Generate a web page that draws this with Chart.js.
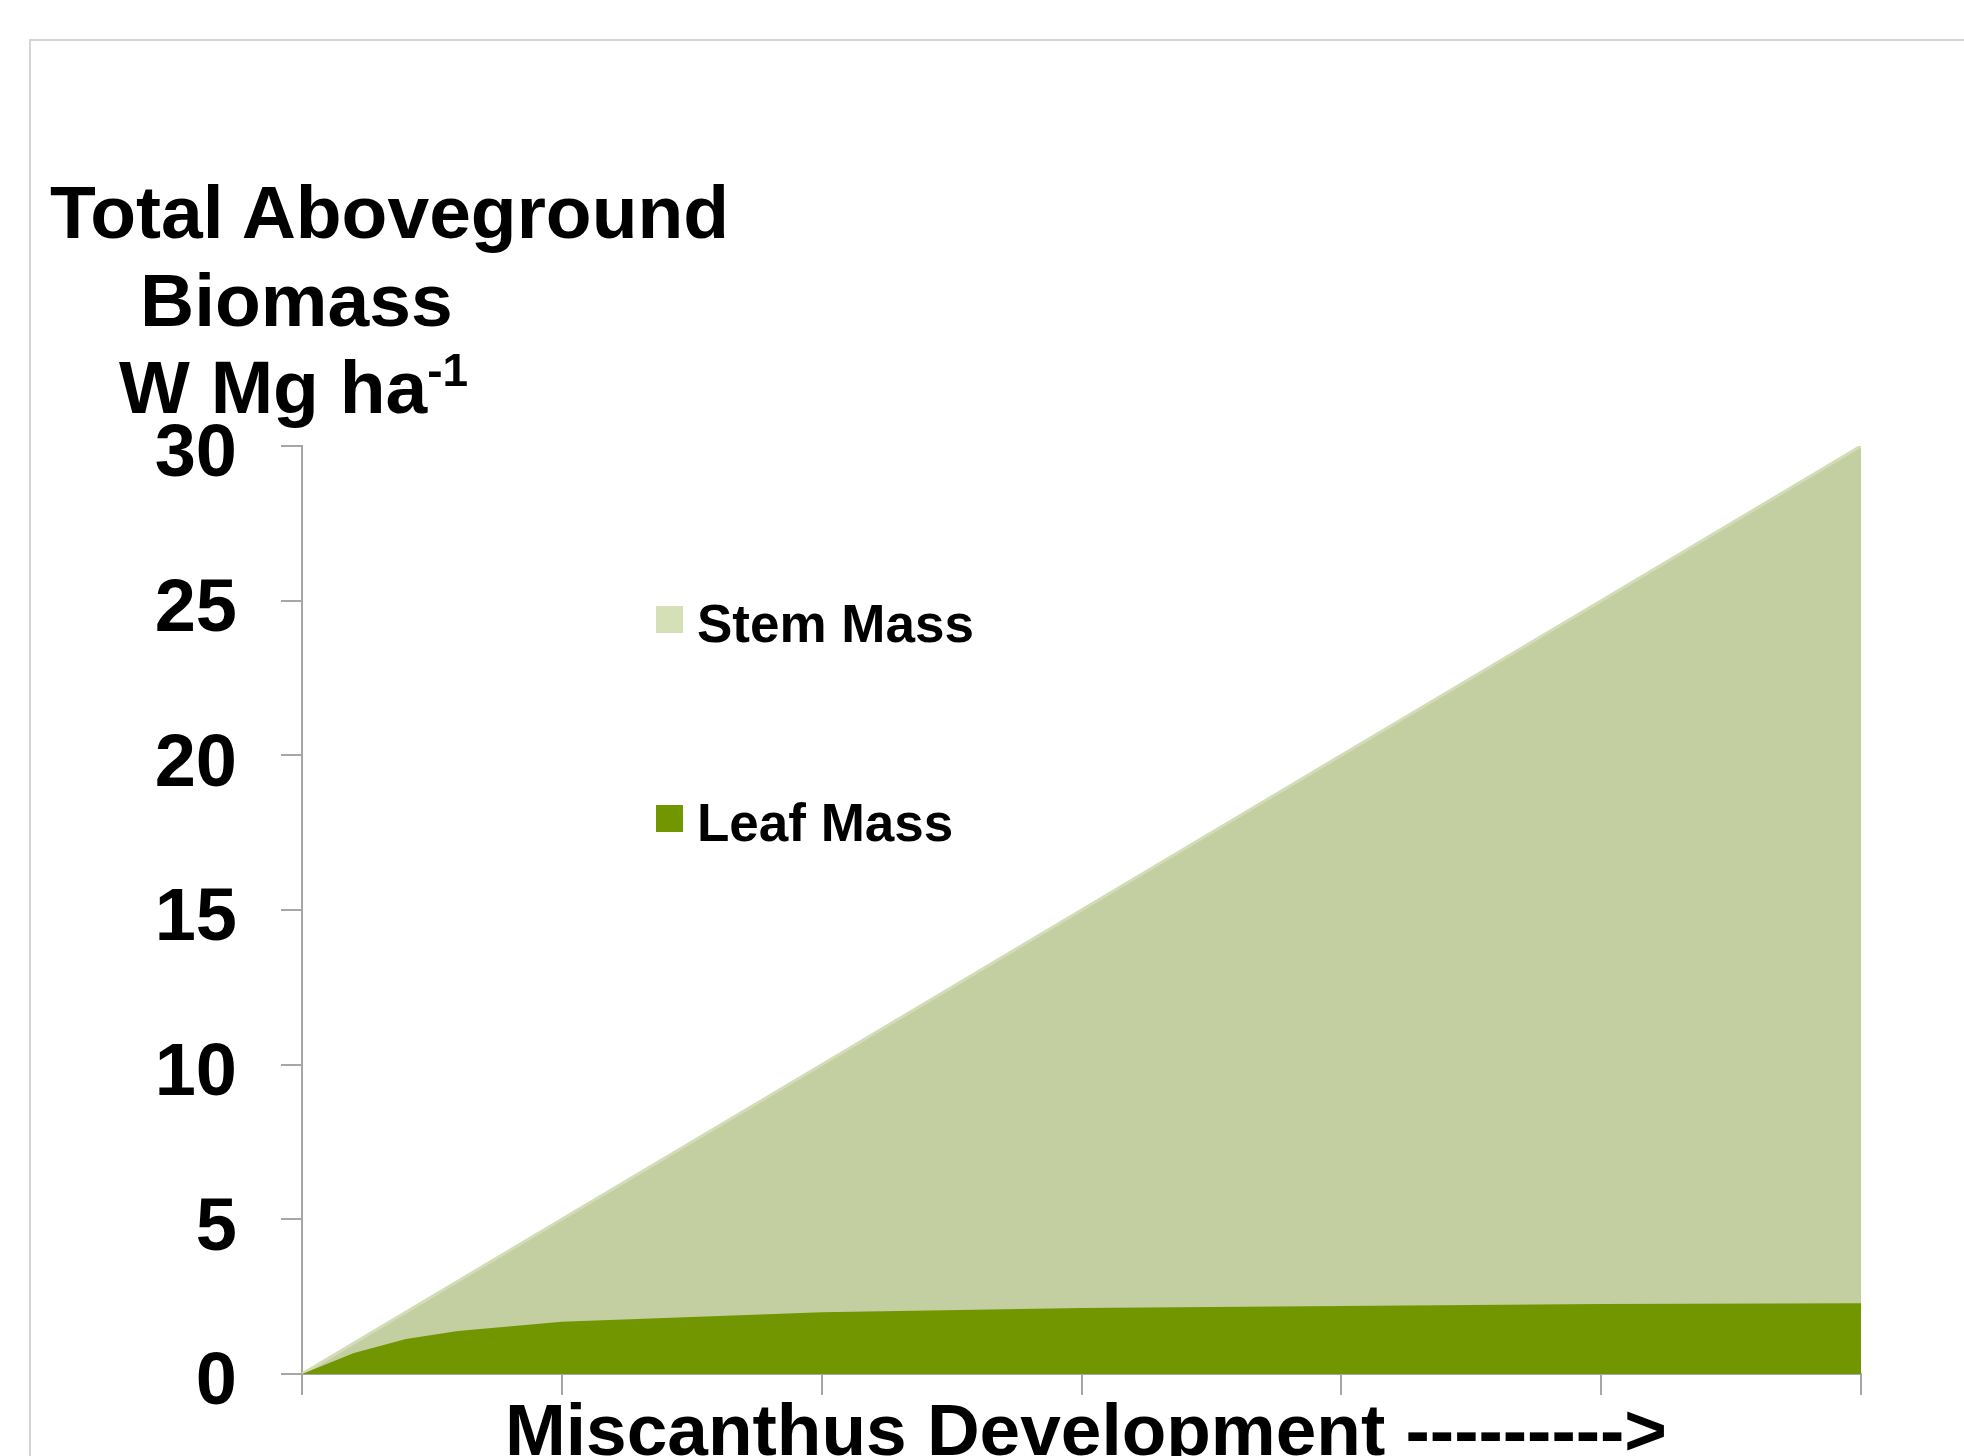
<!DOCTYPE html>
<html>
<head>
<meta charset="utf-8">
<script src="https://cdn.jsdelivr.net/npm/chart.js@4/dist/chart.umd.min.js"></script>
<style>
html, body { margin: 0; padding: 0; background: #fff; overflow: hidden; }
#wrap { position: relative; width: 1964px; height: 1456px; overflow: hidden; }
#frame { position: absolute; left: 29px; top: 39px; right: -5px; bottom: -5px; border-top: 2px solid #d4d4d4; border-left: 2px solid #d4d4d4; }
#chart { position: absolute; left: 0; top: 0; }
.t { position: absolute; font-family: "Liberation Sans", Arial, sans-serif; font-weight: bold; color: #000; white-space: nowrap; line-height: 1; }
.ytitle { font-size: 75px; }
.sup { font-size: 46px; position: relative; top: -27px; line-height: 0; }
</style>
</head>
<body>
<div id="wrap">
  <div id="frame"></div>
  <canvas id="chart" width="1964" height="1456"></canvas>
  <div class="t ytitle" style="left:50px; top:175px;">Total Aboveground</div>
  <div class="t ytitle" style="left:140px; top:263px;">Biomass</div>
  <div class="t ytitle" style="left:119px; top:350px;">W Mg ha<span class="sup">-1</span></div>
  <div class="t" style="font-size:73px; left:1086px; top:1393px; transform:translateX(-50%);">Miscanthus Development ---------&gt;</div>
</div>
<script>
// stages along the x axis (no labels shown in the original)
const stemX = [0, 1, 2, 3, 4, 5, 6];
// top of the stem band = total aboveground biomass
const stemTop = [0, 5, 10, 15, 20, 25, 30];
const leafX = [0, 0.2, 0.4, 0.6, 1, 2, 3, 4, 5, 6];
const leafMass = [0, 0.68, 1.13, 1.39, 1.69, 2.0, 2.13, 2.2, 2.26, 2.29];
const yMin = 0, yMax = 30, yStep = 5;
const xMin = 0, xMax = 6;

const toPoints = (xs, ys) => xs.map((x, i) => ({ x: x, y: ys[i] }));

// legend drawn inside the plot, like the original
const inlineLegend = {
    id: 'inlineLegend',
    afterDraw(chart, args, opts) {
        const ctx = chart.ctx;
        ctx.save();
        ctx.font = 'bold 53px "Liberation Sans", Arial, sans-serif';
        ctx.textBaseline = 'alphabetic';
        ctx.textAlign = 'left';
        chart.data.datasets.forEach((ds, i) => {
            const y = opts.top + i * opts.gap;
            ctx.fillStyle = ds.legendColor;
            ctx.fillRect(opts.left, y, opts.box, opts.box);
            ctx.fillStyle = '#000';
            ctx.fillText(ds.label, opts.left + opts.box + opts.textGap, y + opts.baseline);
        });
        ctx.restore();
    }
};

const axisGray = '#a6a6a6';

new Chart(document.getElementById('chart').getContext('2d'), {
    type: 'line',
    data: {
        datasets: [
            {
                label: 'Stem Mass',
                data: toPoints(stemX, stemTop),
                backgroundColor: '#c3cea1',
                borderColor: '#d3dcb6',
                borderWidth: 3,
                legendColor: '#d6e0b6',
                fill: 'origin',
                pointRadius: 0,
                tension: 0,
                order: 1
            },
            {
                label: 'Leaf Mass',
                data: toPoints(leafX, leafMass),
                backgroundColor: '#729600',
                borderWidth: 0,
                legendColor: '#729600',
                fill: 'origin',
                pointRadius: 0,
                tension: 0,
                order: 0
            }
        ]
    },
    plugins: [inlineLegend],
    options: {
        responsive: false,
        animation: false,
        devicePixelRatio: 1,
        layout: { padding: { top: 446, right: 103, left: 0, bottom: 0 } },
        plugins: {
            legend: { display: false },
            tooltip: { enabled: false },
            inlineLegend: { left: 656, top: 606, gap: 199, box: 27, textGap: 14, baseline: 36 }
        },
        scales: {
            x: {
                type: 'linear',
                min: xMin, max: xMax,
                ticks: { stepSize: 1, callback: () => '', font: { size: 10 } },
                grid: { drawOnChartArea: false, drawTicks: true, tickLength: 21, color: axisGray, lineWidth: 2 },
                border: { display: true, color: axisGray, width: 2 },
                afterFit: (scale) => { scale.height = 82; scale.paddingLeft = 0; scale.paddingRight = 0; }
            },
            y: {
                min: yMin, max: yMax,
                ticks: {
                    stepSize: yStep,
                    color: '#000',
                    padding: 44,
                    labelOffset: 10,
                    font: { family: '"Liberation Sans", Arial, sans-serif', size: 74, weight: 'bold' }
                },
                grid: { drawOnChartArea: false, drawTicks: true, tickLength: 21, color: axisGray, lineWidth: 2 },
                border: { display: true, color: axisGray, width: 2 },
                afterFit: (scale) => { scale.width = 302; scale.paddingTop = 0; scale.paddingBottom = 0; }
            }
        }
    }
});
</script>
</body>
</html>
